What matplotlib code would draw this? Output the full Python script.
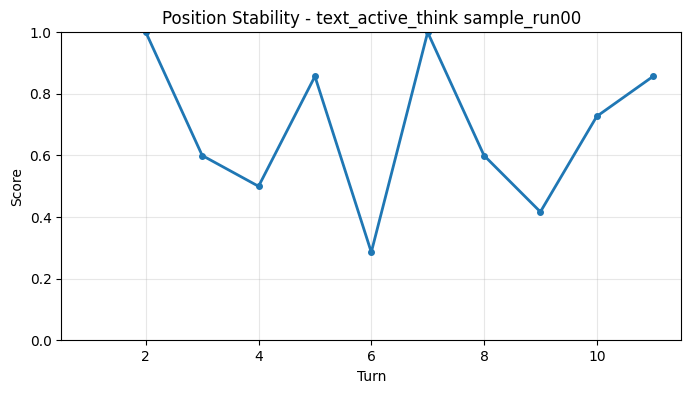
import matplotlib
matplotlib.use("Agg")
import matplotlib.pyplot as plt

# position stability scores per turn
turns = [2, 3, 4, 5, 6, 7, 8, 9, 10, 11]
scores = [1.0, 0.6, 0.5, 0.857, 0.286, 1.0, 0.6, 0.417, 0.727, 0.857]

fig = plt.figure(figsize=(6.91, 3.93), dpi=100)
ax = fig.add_axes([61.3 / 691, 1 - 340.3 / 393, 620 / 691, 308 / 393])

ax.plot(turns, scores, marker='o', linewidth=2, markersize=4, color='#1f77b4')

ax.set_xlim(0.5, 11.5)
ax.set_ylim(0, 1)
ax.grid(True, alpha=0.3)
ax.set_xlabel('Turn')
ax.set_ylabel('Score')
ax.set_title('Position Stability - text_active_think sample_run00')

fig.savefig('out.png', dpi=100)
